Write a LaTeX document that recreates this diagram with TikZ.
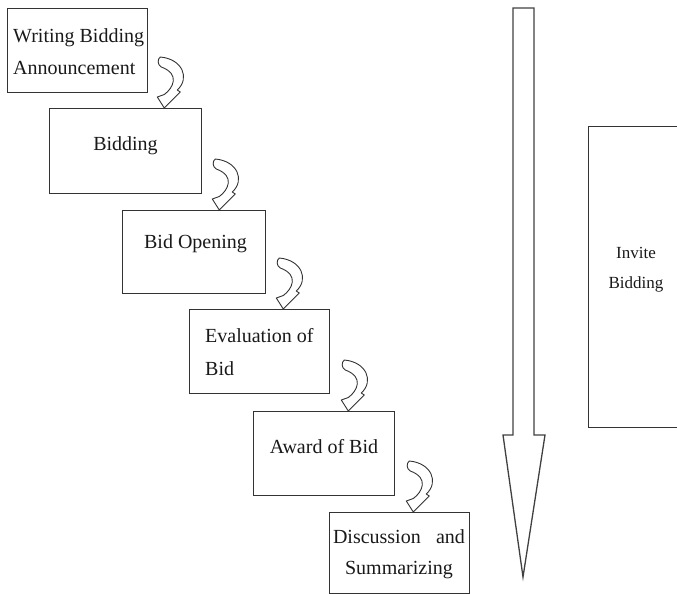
\documentclass[tikz,border=0pt]{standalone}
\usepackage{fontspec}
\setmainfont{Liberation Serif}
\usetikzlibrary{calc}
\begin{document}
\begin{tikzpicture}[x=1pt,y=-1pt,
  stagebox/.style={draw=black!80, line width=1.3pt, anchor=north west,
    inner sep=0pt, fill=none},
  lbl/.style={inner sep=0pt, text=black!90, font=\fontsize{20}{32}\selectfont},
  bigarrow/.style={draw=black!75, line width=1.3pt, line join=miter},
  carrow/.pic={
    \draw[draw=black!80, fill=white, line width=0.9pt, line join=round]
      (0,0) -- (-7,-11) -- (0,-13.5)
      .. controls (9,-20) and (16,-34) .. (-3,-41)
      .. controls (-7,-43) and (-7,-49) .. (-4,-51)
      .. controls (18,-49) and (26,-30) .. (13,-18)
      -- (16,-16) -- cycle;
  }]
  \useasboundingbox (0,0) rectangle (677,594);
  \clip (0,0) rectangle (677,594);

  % stage boxes
  \node[stagebox, minimum width=140pt, minimum height=84pt] (b1) at (7,8) {};
  \node[stagebox, minimum width=152pt, minimum height=85pt] (b2) at (49,108) {};
  \node[stagebox, minimum width=143pt, minimum height=83pt] (b3) at (122,210) {};
  \node[stagebox, minimum width=140pt, minimum height=84pt] (b4) at (189,309) {};
  \node[stagebox, minimum width=141pt, minimum height=84pt] (b5) at (253,411) {};
  \node[stagebox, minimum width=140pt, minimum height=80.5pt] (b6) at (329,512) {};
  \node[stagebox, minimum width=96pt, minimum height=301pt] (inv) at (588,126) {};

  % stage labels
  \node[lbl, anchor=north west, align=left] (t1) at (13,28.3)
    {Writing Bidding\\Announcement};
  \node[lbl, anchor=base] (t2) at (125.5,150) {Bidding};
  \node[lbl, anchor=base] (t3) at (195.5,248) {Bid Opening};
  \node[lbl, anchor=north west, align=left,
    font=\fontsize{20}{33}\selectfont] (t4) at (205,328.3) {Evaluation of\\Bid};
  \node[lbl, anchor=base] (t5) at (324,453) {Award of Bid};
  \node[lbl, anchor=north, align=center,
    font=\fontsize{20}{31}\selectfont] (t6) at (399,529.3)
    {\makebox[132pt][s]{Discussion and}\\Summarizing};
  \node[lbl, anchor=north, align=center,
    font=\fontsize{17}{30}\selectfont] (t7) at (636,246.7) {Invite\\Bidding};

  % curved connectors between consecutive stages
  \coordinate (c1) at ($(b1.east |- b2.north)+(16,0)$);
  \coordinate (c2) at ($(b2.east |- b3.north)+(17,0)$);
  \coordinate (c3) at ($(b3.east |- b4.north)+(17,0)$);
  \coordinate (c4) at ($(b4.east |- b5.north)+(18,0)$);
  \coordinate (c5) at ($(b5.east |- b6.north)+(18,0)$);
  \foreach \c in {c1,c2,c3,c4,c5} { \pic at (\c) {carrow}; }

  % long downward arrow
  \draw[bigarrow] (513,8) -- (534,8) -- (534,435) -- (545,435)
    -- (523,577) -- (503,435) -- (513,435) -- cycle;
\end{tikzpicture}
\end{document}
